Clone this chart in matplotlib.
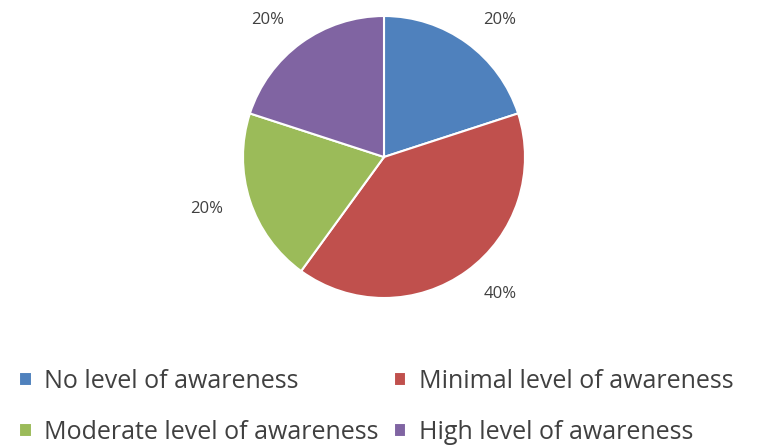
import numpy as np
import matplotlib
matplotlib.use("Agg")
import matplotlib.pyplot as plt

categories = ["No level of awareness", "Minimal level of awareness",
              "Moderate level of awareness", "High level of awareness"]
values = [20, 40, 20, 20]
colors = ["#4F81BD", "#C0504D", "#9BBB59", "#8064A2"]

plt.rcParams['font.family'] = ['Open Sans', 'DejaVu Sans']

fig = plt.figure(figsize=(7.62, 4.45), dpi=100)
ax = fig.add_axes([(384 - 141) / 762, (445 - 298) / 445, 282 / 762, 282 / 445])
wedges, _ = ax.pie(values, colors=colors, startangle=90, counterclock=False,
                   radius=1.0, wedgeprops=dict(edgecolor='white', linewidth=1.5))
ax.set_xlim(-1, 1)
ax.set_ylim(-1, 1)
ax.set_aspect('equal')
ax.axis('off')

total = sum(values)
for w, v in zip(wedges, values):
    mid = np.deg2rad((w.theta1 + w.theta2) / 2)
    d = 1.2
    x, y = d * np.cos(mid), d * np.sin(mid)
    ha = 'left' if x > 0 else 'right'
    ax.text(x, y, f"{v / total * 100:.0f}%", ha=ha, va='center',
            fontsize=12, color='#404040', clip_on=False)

order = [0, 2, 1, 3]
leg = fig.legend([wedges[i] for i in order], [categories[i] for i in order],
                 loc='lower left', bbox_to_anchor=(-0.004, -0.05),
                 ncol=2, frameon=False, fontsize=18, handlelength=0.5, handleheight=0.5,
                 handletextpad=0.5, columnspacing=0.6, labelspacing=1.05,
                 labelcolor='#404040')
fig.savefig("out.png", dpi=100)
